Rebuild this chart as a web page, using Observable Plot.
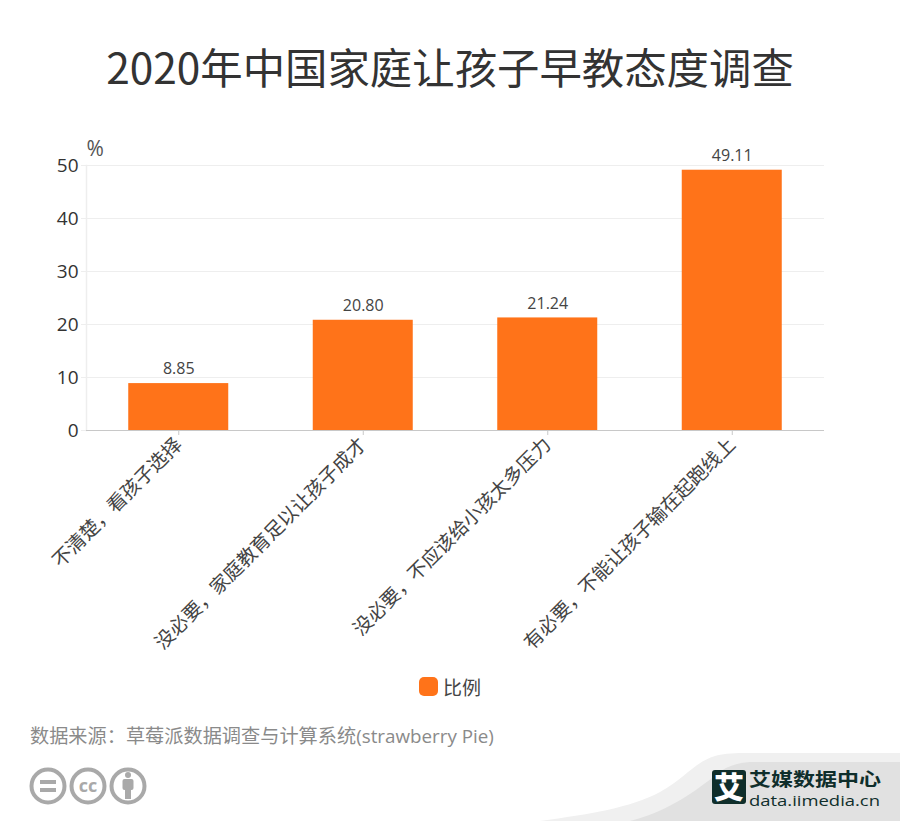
<!DOCTYPE html>
<html lang="zh">
<head>
<meta charset="utf-8">
<script src="https://cdn.jsdelivr.net/npm/d3@7"></script>
<script src="https://cdn.jsdelivr.net/npm/@observablehq/plot@0.6"></script>
<style>
html,body{margin:0;padding:0;background:#fff;}
body{width:900px;height:822px;position:relative;overflow:hidden;font-family:"Open Sans","Noto Sans CJK SC",sans-serif;}
#title{position:absolute;left:0;top:36px;width:900px;text-align:center;font-size:42.4px;line-height:60px;color:#333;font-family:"Noto Sans CJK SC",sans-serif;font-weight:400;white-space:nowrap;}
#chart{position:absolute;left:0;top:130px;}
#legend{position:absolute;left:419px;top:674px;height:24px;display:flex;align-items:center;font-size:19px;color:#444;font-family:"Noto Sans CJK SC",sans-serif;}
#legend i{display:block;width:19px;height:19px;border-radius:5px;background:#ff7319;margin-right:5px;}
#source{position:absolute;left:30px;top:721px;font-size:19.2px;line-height:28px;color:#8a8a8a;white-space:nowrap;font-family:"Noto Sans CJK SC",sans-serif;}
#source span{font-family:"Open Sans",sans-serif;font-size:18.8px;}
#footer{position:absolute;left:0;top:750px;}
</style>
</head>
<body>
<div id="title">2020年中国家庭让孩子早教态度调查</div>
<div id="chart"></div>
<div id="legend"><i></i>比例</div>
<div id="source">数据来源&#xFF1A;草莓派数据调查与计算系统<span>(strawberry Pie)</span></div>
<svg id="footer" width="900" height="72" viewBox="0 750 900 72">
  <path d="M540 821 C590 814 630 808 660 792 C685 778 695 762 715 756 C722 754 730 753 745 753 L900 753 L900 821 Z" fill="#f0f0f0"/>
  <path d="M630 821 C665 812 690 795 712 778 C725 767 735 762 755 762 L900 762 L900 821 Z" fill="#e1e1e1"/>
  <g fill="none" stroke="#a9a9a9" stroke-width="4">
    <circle cx="48" cy="786" r="16.5"/><circle cx="88" cy="786" r="16.5"/><circle cx="128" cy="786" r="16.5"/>
  </g>
  <g fill="#a9a9a9">
    <rect x="40" y="780" width="16" height="4"/><rect x="40" y="788" width="16" height="4"/>
    <text x="88" y="792" text-anchor="middle" font-size="18" font-weight="700" font-family="Open Sans">cc</text>
    <circle cx="128" cy="775" r="3"/><rect x="122.5" y="779" width="11" height="11" rx="2"/><rect x="125" y="788" width="6" height="11"/>
  </g>
  <rect x="712" y="770" width="34" height="34" rx="3" fill="#0f2e2b"/>
  <text x="729" y="798" text-anchor="middle" font-size="30" font-weight="900" fill="#fff" font-family="Noto Sans CJK SC">艾</text>
  <text x="749" y="785.5" font-size="18.5" font-weight="700" fill="#0f2e2b" font-family="Noto Sans CJK SC" textLength="132" lengthAdjust="spacingAndGlyphs">艾媒数据中心</text>
  <text x="749" y="806" font-size="14" fill="#0f2e2b" font-family="Open Sans" textLength="131" lengthAdjust="spacingAndGlyphs">data.iimedia.cn</text>
</svg>
<script>
const categories = ["不清楚\uFF0C看孩子选择","没必要\uFF0C家庭教育足以让孩子成才","没必要\uFF0C不应该给小孩太多压力","有必要\uFF0C不能让孩子输在起跑线上"];
const values = [8.85, 20.80, 21.24, 49.11];
const yTicks = [0, 10, 20, 30, 40, 50];
const table = categories.map((c, i) => ({c, v: values[i]}));
const chart = Plot.plot({
  width: 900, height: 530,
  marginTop: 35, marginBottom: 230, marginLeft: 86, marginRight: 76,
  style: {fontFamily: '"Open Sans","Noto Sans CJK SC",sans-serif', background: "transparent", overflow: "visible"},
  x: {domain: categories, paddingInner: 0.458, paddingOuter: 0.229, round: false, label: null},
  y: {domain: [0, 50], label: null},
  marks: [
    Plot.gridY(yTicks, {stroke: "#eeeeee", strokeOpacity: 1}),
    Plot.frame({anchor: "left", stroke: "#eeeeee", strokeWidth: 1.5}),
    Plot.axisY(yTicks, {anchor: "left", tickSize: 5, stroke: "#eeeeee", tickPadding: 3, fontSize: 19, fill: "#333", label: null}),
    Plot.barY(table, {x: "c", y: "v", fill: "#ff7319"}),
    Plot.ruleY([0], {stroke: "#c8c8c8", strokeWidth: 1.2}),
    Plot.axisX({anchor: "bottom", tickSize: 5, stroke: "#c8c8c8", tickRotate: -45, tickPadding: 6, fontSize: 19.3, fill: "#444", label: null, fontFamily: '"Noto Sans CJK SC",sans-serif'}),
    Plot.text(table, {x: "c", y: "v", text: d => d.v.toFixed(2), dy: -14.5, fontSize: 16, fill: "#444"}),
    Plot.text(["%"], {frameAnchor: "top-left", text: d => d, dx: 0, dy: -24, fontSize: 21, fill: "#555"})
  ]
});
document.getElementById("chart").append(chart);
</script>
</body>
</html>
